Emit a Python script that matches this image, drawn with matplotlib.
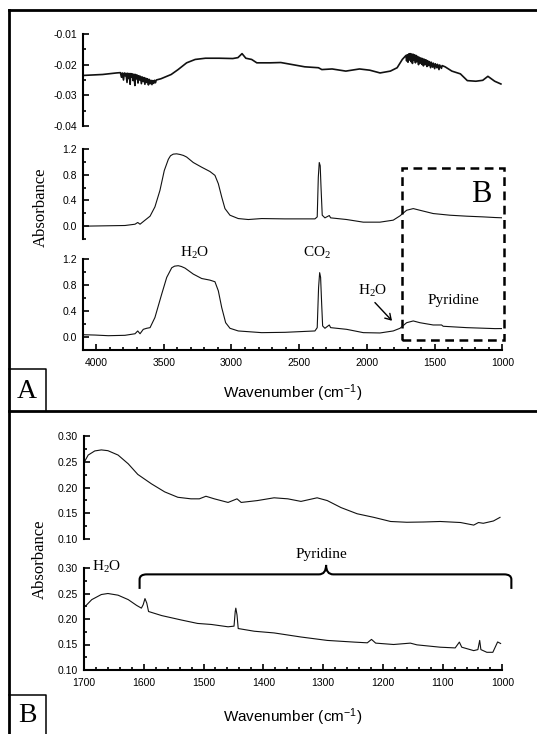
import matplotlib
matplotlib.use('Agg')
import matplotlib.pyplot as plt
from matplotlib.ticker import MultipleLocator, FormatStrFormatter
from matplotlib.patches import Rectangle, PathPatch, FancyArrowPatch
from matplotlib.path import Path

plt.rcParams['axes.unicode_minus'] = False
plt.rcParams['mathtext.default'] = 'regular'
plt.rcParams['font.family'] = ['Liberation Sans', 'DejaVu Sans']

# ---------------- data ----------------
# Panel A, top: difference spectrum (with the noisy water-vapour spikes)
diff_wn = [4089, 3951, 3849, 3820, 3812, 3806, 3797, 3791, 3784, 3779, 3771, 3766, 3760,
           3755, 3748, 3743, 3737, 3732, 3726, 3720, 3713, 3708, 3701, 3696, 3690, 3684,
           3677, 3672, 3665, 3659, 3652, 3646, 3639, 3633, 3626, 3620, 3613, 3607, 3600,
           3594, 3587, 3581, 3574, 3568, 3561, 3555, 3521, 3445, 3394, 3331, 3268, 3192,
           3091, 2990, 2952, 2922, 2894, 2851, 2813, 2712, 2636, 2560, 2459, 2358, 2333,
           2257, 2156, 2055, 1979, 1903, 1827, 1777, 1739, 1712, 1707, 1703, 1697, 1692,
           1686, 1681, 1675, 1670, 1664, 1659, 1653, 1648, 1642, 1637, 1631, 1626, 1619,
           1614, 1607, 1602, 1595, 1590, 1583, 1578, 1570, 1565, 1557, 1552, 1544, 1539,
           1530, 1525, 1515, 1510, 1500, 1495, 1484, 1479, 1468, 1463, 1450, 1445, 1423,
           1373, 1310, 1259, 1196, 1145, 1107, 1057, 1011]
diff_abs = [-0.0235, -0.0232, -0.0227, -0.0226, -0.0241, -0.0227, -0.0250, -0.0227, -0.0236,
            -0.0228, -0.0258, -0.0228, -0.0245, -0.0229, -0.0264, -0.0229, -0.0240, -0.0230,
            -0.0252, -0.0231, -0.0268, -0.0232, -0.0246, -0.0234, -0.0260, -0.0236, -0.0250,
            -0.0238, -0.0262, -0.0240, -0.0255, -0.0242, -0.0264, -0.0244, -0.0258, -0.0246,
            -0.0266, -0.0248, -0.0262, -0.0251, -0.0265, -0.0252, -0.0261, -0.0251, -0.0259,
            -0.0250, -0.0246, -0.0232, -0.0216, -0.0194, -0.0183, -0.0179, -0.0179, -0.0180,
            -0.0177, -0.0164, -0.0179, -0.0183, -0.0194, -0.0194, -0.0193, -0.0199, -0.0207,
            -0.0210, -0.0216, -0.0214, -0.0221, -0.0214, -0.0218, -0.0227, -0.0221, -0.0210,
            -0.0183, -0.0170, -0.0188, -0.0168, -0.0192, -0.0165, -0.0185, -0.0164, -0.0190,
            -0.0165, -0.0196, -0.0166, -0.0186, -0.0168, -0.0194, -0.0170, -0.0190, -0.0173,
            -0.0200, -0.0176, -0.0195, -0.0178, -0.0199, -0.0180, -0.0204, -0.0182, -0.0200,
            -0.0184, -0.0206, -0.0187, -0.0203, -0.0190, -0.0210, -0.0192, -0.0208, -0.0195,
            -0.0213, -0.0197, -0.0210, -0.0199, -0.0216, -0.0201, -0.0212, -0.0203, -0.0207,
            -0.0221, -0.0230, -0.0252, -0.0254, -0.0251, -0.0238, -0.0254, -0.0263]

# Panel A, middle spectrum
mid_wn = [4081, 3786, 3712, 3692, 3675, 3638, 3601, 3565, 3528, 3496, 3466, 3450, 3430,
          3405, 3380, 3355, 3331, 3282, 3220, 3159, 3122, 3097, 3072, 3048, 3011, 2950,
          2876, 2777, 2605, 2494, 2384, 2367, 2359, 2352, 2345, 2339, 2330, 2310, 2278,
          2268, 2150, 2027, 1904, 1806, 1756, 1707, 1658, 1609, 1511, 1387, 1264, 1142,
          1055, 1005]
mid_abs = [0.00, 0.01, 0.03, 0.057, 0.03, 0.093, 0.155, 0.30, 0.556, 0.865, 1.04, 1.095, 1.12,
           1.125, 1.115, 1.10, 1.075, 0.99, 0.917, 0.85, 0.79, 0.66, 0.453, 0.273, 0.17, 0.118,
           0.103, 0.118, 0.113, 0.113, 0.113, 0.144, 0.76, 0.99, 0.94, 0.61, 0.17, 0.129, 0.165,
           0.129, 0.103, 0.062, 0.062, 0.093, 0.16, 0.247, 0.273, 0.247, 0.196, 0.17, 0.155,
           0.144, 0.134, 0.13]

# Panel A, lower spectrum
low_wn = [4094, 4007, 3909, 3786, 3712, 3692, 3675, 3651, 3626, 3601, 3565, 3515, 3478,
          3441, 3420, 3393, 3370, 3343, 3282, 3220, 3159, 3122, 3097, 3072, 3043, 3011,
          2950, 2777, 2605, 2384, 2367, 2357, 2349, 2342, 2334, 2327, 2310, 2278, 2268,
          2150, 2027, 1904, 1806, 1756, 1707, 1658, 1609, 1511, 1449, 1437, 1264, 1055,
          1005]
low_abs = [0.035, 0.03, 0.02, 0.026, 0.05, 0.093, 0.05, 0.118, 0.134, 0.144, 0.30, 0.66, 0.917,
           1.065, 1.09, 1.097, 1.085, 1.06, 0.968, 0.90, 0.875, 0.85, 0.71, 0.453, 0.22, 0.134,
           0.093, 0.067, 0.072, 0.093, 0.144, 0.76, 0.99, 0.917, 0.50, 0.17, 0.134, 0.185, 0.144,
           0.118, 0.067, 0.062, 0.093, 0.134, 0.22, 0.247, 0.22, 0.185, 0.185, 0.165, 0.144,
           0.129, 0.13]

# Panel B, top spectrum
bt_wn = [1698, 1693, 1682, 1671, 1660, 1643, 1626, 1610, 1587, 1565, 1543, 1521, 1507,
         1496, 1482, 1459, 1444, 1437, 1410, 1382, 1359, 1337, 1310, 1293, 1270, 1243,
         1215, 1187, 1160, 1132, 1104, 1070, 1048, 1040, 1032, 1015, 1004]
bt_abs = [0.2525, 0.263, 0.271, 0.273, 0.2715, 0.263, 0.246, 0.2254, 0.207, 0.1915, 0.181,
          0.178, 0.178, 0.183, 0.178, 0.171, 0.178, 0.171, 0.1746, 0.18, 0.178, 0.173, 0.18,
          0.1746, 0.161, 0.149, 0.142, 0.134, 0.1325, 0.133, 0.134, 0.132, 0.127, 0.132,
          0.1305, 0.135, 0.142]

# Panel B, lower spectrum
bb_wn = [1698, 1687, 1671, 1660, 1643, 1626, 1612, 1604, 1601, 1598, 1595, 1592, 1570,
         1537, 1510, 1487, 1459, 1449, 1447, 1446, 1444, 1442, 1415, 1382, 1337, 1293,
         1248, 1226, 1219, 1212, 1182, 1154, 1143, 1104, 1079, 1072, 1068, 1048, 1041,
         1038, 1036, 1026, 1016, 1008, 1003]
bb_abs = [0.2247, 0.238, 0.248, 0.25, 0.2467, 0.238, 0.2267, 0.2213, 0.228, 0.24, 0.2313,
          0.2147, 0.2067, 0.198, 0.1913, 0.1893, 0.1847, 0.186, 0.2147, 0.2213, 0.208, 0.1813,
          0.176, 0.1727, 0.1647, 0.158, 0.1547, 0.1533, 0.16, 0.1527, 0.15, 0.1527, 0.1493,
          0.1447, 0.1433, 0.1547, 0.1447, 0.138, 0.14, 0.158, 0.14, 0.1347, 0.1347, 0.155,
          0.152]

xticks_A = [4000, 3500, 3000, 2500, 2000, 1500, 1000]
xticks_B = [1700, 1600, 1500, 1400, 1300, 1200, 1100, 1000]

# ---------------- figure ----------------
W, H = 537, 734
fig = plt.figure(figsize=(W / 100, H / 100), dpi=100)

SERIF = ['Liberation Serif', 'DejaVu Serif']
LC = '#111111'

bg = fig.add_axes([0, 0, 1, 1])
bg.set_xlim(0, W)
bg.set_ylim(H, 0)
bg.axis('off')
# outer frame and panel boxes
bg.plot([8.6, 8.6], [H, 9.6], color='k', lw=2.0, solid_capstyle='projecting')
bg.plot([8.6, W], [9.6, 9.6], color='k', lw=2.0, solid_capstyle='projecting')
bg.plot([8.6, W], [410.5, 410.5], color='k', lw=2.0)
bg.plot([8.6, 45.5, 45.5], [369, 369, 410.5], color='k', lw=1.1)
bg.plot([8.6, 45.5, 45.5], [695, 695, H], color='k', lw=1.1)
bg.text(27, 391, 'A', family=SERIF, fontsize=20, ha='center', va='center')
bg.text(27, 716, 'B', family=SERIF, fontsize=20, ha='center', va='center')


def px_axes(left, top, right, bottom):
    return fig.add_axes([left / W, 1 - bottom / H, (right - left) / W, (bottom - top) / H])


def style(ax, show_x):
    ax.patch.set_alpha(0)
    for s in ['top', 'right']:
        ax.spines[s].set_visible(False)
    ax.spines['left'].set_linewidth(1.5)
    ax.spines['bottom'].set_linewidth(1.5)
    if not show_x:
        ax.spines['bottom'].set_visible(False)
        ax.tick_params(axis='x', which='both', bottom=False, labelbottom=False)
    ax.tick_params(which='both', direction='in', width=1.2, labelsize=7.5)
    ax.tick_params(axis='y', pad=4.3)
    ax.tick_params(axis='x', pad=6)
    ax.tick_params(which='major', length=4)
    ax.tick_params(which='minor', length=2.5)


# Panel A
axA1 = px_axes(83, 34, 502.4, 126)
axA2 = px_axes(83, 149, 502.4, 239)
axA3 = px_axes(83, 259, 502.4, 350)

axA1.plot(diff_wn, diff_abs, color=LC, lw=1.2)
axA2.plot(mid_wn, mid_abs, color=LC, lw=0.8)
axA3.plot(low_wn, low_abs, color=LC, lw=0.8)

for ax in (axA1, axA2, axA3):
    ax.set_xlim(4096, 1000)
    style(ax, ax is axA3)
axA1.set_ylim(-0.04, -0.01)
axA1.yaxis.set_major_locator(MultipleLocator(0.01))
axA1.yaxis.set_minor_locator(MultipleLocator(0.005))
axA1.yaxis.set_major_formatter(FormatStrFormatter('%.2f'))
for ax in (axA2, axA3):
    ax.set_ylim(-0.2, 1.2)
    ax.set_yticks([0.0, 0.4, 0.8, 1.2])
    ax.yaxis.set_minor_locator(MultipleLocator(0.2))
    ax.yaxis.set_major_formatter(FormatStrFormatter('%.1f'))
axA3.set_xticks(xticks_A)
axA3.xaxis.set_minor_locator(MultipleLocator(100))

# Panel A annotations
axA3.text(3269, 1.30, 'H$_2$O', family=SERIF, fontsize=11, ha='center', va='center', clip_on=False)
axA3.text(2370, 1.30, 'CO$_2$', family=SERIF, fontsize=11, ha='center', va='center', clip_on=False)
axA3.text(1955, 0.71, 'H$_2$O', family=SERIF, fontsize=11, ha='center', va='center', clip_on=False)
axA3.text(1359, 0.56, 'Pyridine', family=SERIF, fontsize=11, ha='center', va='center', clip_on=False)
axA3.add_patch(FancyArrowPatch((1941, 0.53), (1815, 0.25), arrowstyle='->,head_length=4,head_width=2.5',
                               color='k', lw=1.0, clip_on=False, shrinkA=0, shrinkB=0))
axA2.text(1159, 0.49, 'B', family=SERIF, fontsize=22, ha='center', va='center', clip_on=False)
axA3.add_patch(Rectangle((1744, -0.046), 985 - 1744, 2.603 + 0.046, fill=False, ec='k', lw=1.8,
                         linestyle=(0, (3.5, 2.2)), clip_on=False))

fig.text(41 / W, 1 - 207 / H, 'Absorbance', family=SERIF, fontsize=12, rotation=90, ha='center', va='center')
fig.text(293 / W, 1 - 393 / H, 'Wavenumber (cm$^{-1}$)', fontsize=11, ha='center', va='center')

# Panel B
axB1 = px_axes(84, 436, 502.4, 539)
axB2 = px_axes(84, 568, 502.4, 670)
axB1.plot(bt_wn, bt_abs, color=LC, lw=0.8)
axB2.plot(bb_wn, bb_abs, color=LC, lw=0.8)
for ax in (axB1, axB2):
    ax.set_xlim(1700, 1000)
    ax.set_ylim(0.10, 0.30)
    ax.yaxis.set_major_locator(MultipleLocator(0.05))
    ax.yaxis.set_minor_locator(MultipleLocator(0.025))
    ax.yaxis.set_major_formatter(FormatStrFormatter('%.2f'))
    style(ax, ax is axB2)
axB2.set_xticks(xticks_B)
axB2.xaxis.set_minor_locator(MultipleLocator(20))

axB2.text(1686, 0.302, 'H$_2$O', family=SERIF, fontsize=11, ha='left', va='center', clip_on=False)
axB2.text(1303, 0.327, 'Pyridine', family=SERIF, fontsize=11, ha='center', va='center', clip_on=False)

# brace
x0, x1, xm = 1607, 985, 1295
yh, yb, yt = 0.2875, 0.259, 0.306
rx, ry = 12, 0.010
verts = [(x0, yb), (x0, yh - ry), (x0, yh), (x0 - rx, yh), (xm + rx, yh), (xm, yh), (xm, yt),
         (xm, yh), (xm - rx, yh), (x1 + rx, yh), (x1, yh), (x1, yh - ry), (x1, yb)]
codes = [Path.MOVETO, Path.LINETO, Path.CURVE3, Path.CURVE3, Path.LINETO, Path.CURVE3, Path.CURVE3,
         Path.CURVE3, Path.CURVE3, Path.LINETO, Path.CURVE3, Path.CURVE3, Path.LINETO]
axB2.add_patch(PathPatch(Path(verts, codes), fill=False, ec='k', lw=1.5, clip_on=False))

fig.text(40 / W, 1 - 559 / H, 'Absorbance', family=SERIF, fontsize=12, rotation=90, ha='center', va='center')
fig.text(293 / W, 1 - 717 / H, 'Wavenumber (cm$^{-1}$)', fontsize=11, ha='center', va='center')

fig.savefig('out.png', dpi=100)
